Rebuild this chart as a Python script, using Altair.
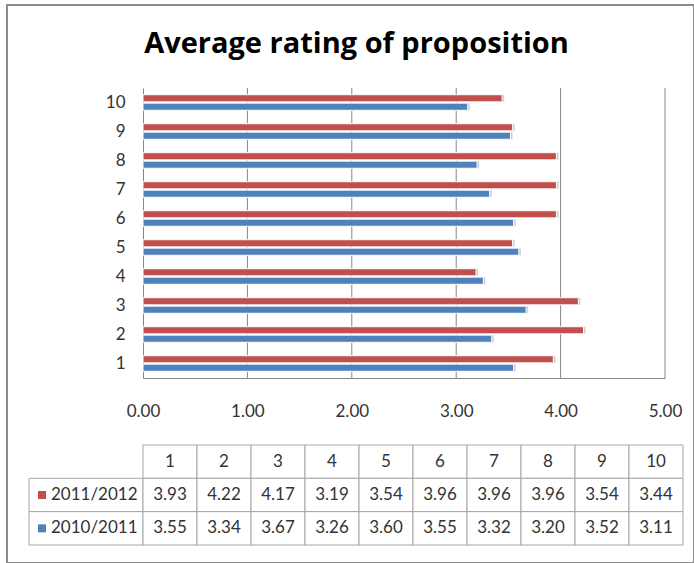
import altair as alt
import pandas as pd

# ---- data -------------------------------------------------------------
propositions = [str(i) for i in range(1, 11)]
series_names = ["2011/2012", "2010/2011"]
ratings_2011_2012 = [3.93, 4.22, 4.17, 3.19, 3.54, 3.96, 3.96, 3.96, 3.54, 3.44]
ratings_2010_2011 = [3.55, 3.34, 3.67, 3.26, 3.60, 3.55, 3.32, 3.20, 3.52, 3.11]
series_colors = ["#C0504D", "#4F81BD"]
x_tick_values = [0, 1, 2, 3, 4, 5]
grid_values = [1, 2, 3, 4, 5]

FONT = "Lato"
TEXT_COLOR = "#333333"
GRID_COLOR = "#868686"
TABLE_LINE = "#A6A6A6"

series_values = {
    "2011/2012": ratings_2011_2012,
    "2010/2011": ratings_2010_2011,
}

# long table for the bars
bar_rows = []
for s in series_names:
    for p, v in zip(propositions, series_values[s]):
        bar_rows.append({"prop": p, "series": s, "value": v})
bars_df = pd.DataFrame(bar_rows)

# vertical gridlines: one short segment per category band
grid_df = pd.DataFrame(
    [{"prop": p, "value": g} for p in propositions for g in grid_values]
)

# data table under the chart: column units (one per proposition), row units
LABEL_COL = 114 / 54  # width of the series-name column, in column units
cells, texts, labels = [], [], []
for i, p in enumerate(propositions, start=1):
    cells.append({"x0": i - 1, "x1": i, "y0": 0, "y1": 1})
    texts.append({"tx": i - 0.5, "ty": 0.5, "txt": p})
for r, s in enumerate(series_names, start=1):
    cells.append({"x0": -LABEL_COL, "x1": 0, "y0": r, "y1": r + 1})
    labels.append({"lx": -LABEL_COL, "ly": r + 0.5, "series": s})
    for i, v in enumerate(series_values[s], start=1):
        cells.append({"x0": i - 1, "x1": i, "y0": r, "y1": r + 1})
        texts.append({"tx": i - 0.5, "ty": r + 0.5, "txt": f"{v:.2f}"})
cells_df = pd.DataFrame(cells)
texts_df = pd.DataFrame(texts)
labels_df = pd.DataFrame(labels)

color_enc = alt.Color(
    "series:N",
    scale=alt.Scale(domain=series_names, range=series_colors),
    legend=None,
)

# ---- bar chart ----------------------------------------------------------
x_enc = alt.X(
    "value:Q",
    scale=alt.Scale(domain=[0, 5], range=[136, 658], nice=False, zero=True),
    axis=alt.Axis(
        values=x_tick_values,
        format=".2f",
        grid=False,
        domainColor=GRID_COLOR,
        ticks=False,
        offset=-185,
        labelPadding=25,
        labelAlign="center",
        labelFont=FONT,
        labelFontSize=17,
        labelColor=TEXT_COLOR,
        title=None,
    ),
)
y_enc = alt.Y(
    "prop:N",
    sort=propositions[::-1],
    scale=alt.Scale(range=[83, 373], paddingInner=0, paddingOuter=0),
    axis=alt.Axis(
        offset=-136,
        ticks=False,
        grid=False,
        domainColor=GRID_COLOR,
        labelPadding=18,
        labelFont=FONT,
        labelFontSize=17,
        labelColor=TEXT_COLOR,
        title=None,
    ),
)
yoff_enc = alt.YOffset(
    "series:N",
    sort=series_names,
    scale=alt.Scale(paddingInner=0.15, paddingOuter=0.8),
)

gridlines = alt.Chart(grid_df).mark_tick(
    orient="vertical", size=29, thickness=1, color=GRID_COLOR, opacity=1
).encode(x=x_enc, y=y_enc)

bar_base = alt.Chart(bars_df)
shadow = bar_base.mark_bar(color="#7F7F7F", opacity=0.4, xOffset=2, yOffset=2).encode(
    x=x_enc, y=y_enc, yOffset=yoff_enc
)
bars = bar_base.mark_bar(stroke="white", strokeWidth=1).encode(
    x=x_enc, y=y_enc, yOffset=yoff_enc, color=color_enc
)
bar_chart = alt.layer(gridlines, shadow, bars)

# ---- data table -------------------------------------------------------------
tx_scale = alt.Scale(domain=[0, 10], range=[136, 676], nice=False, zero=False)
ty_scale = alt.Scale(domain=[0, 3], range=[440, 540], nice=False, zero=False)

grid_cells = alt.Chart(cells_df).mark_rect(
    fill="white", stroke=TABLE_LINE, strokeWidth=1
).encode(
    x=alt.X("x0:Q", scale=tx_scale, axis=None),
    x2="x1:Q",
    y=alt.Y("y0:Q", scale=ty_scale, axis=None),
    y2="y1:Q",
)
cell_text = alt.Chart(texts_df).mark_text(
    font=FONT, fontSize=17, color=TEXT_COLOR, align="center", baseline="middle"
).encode(
    x=alt.X("tx:Q", scale=tx_scale, axis=None),
    y=alt.Y("ty:Q", scale=ty_scale, axis=None),
    text="txt:N",
)
key_squares = alt.Chart(labels_df).mark_point(
    shape="square", filled=True, size=64, opacity=1, xOffset=13
).encode(
    x=alt.X("lx:Q", scale=tx_scale, axis=None),
    y=alt.Y("ly:Q", scale=ty_scale, axis=None),
    color=color_enc,
)
key_text = alt.Chart(labels_df).mark_text(
    font=FONT, fontSize=17, color=TEXT_COLOR, align="left", baseline="middle", dx=22
).encode(
    x=alt.X("lx:Q", scale=tx_scale, axis=None),
    y=alt.Y("ly:Q", scale=ty_scale, axis=None),
    text="series:N",
)
table_chart = alt.layer(grid_cells, cell_text, key_squares, key_text)

chart = (
    alt.layer(bar_chart, table_chart)
    .resolve_scale(x="independent", y="independent")
    .properties(
        width=687,
        height=558,
        autosize=alt.AutoSizeParams(type="none"),
        padding={"left": 7, "top": 5, "right": 0, "bottom": 0},
        title=alt.Title(
            "Average rating of proposition",
            font="Open Sans",
            fontSize=29,
            fontWeight="bold",
            color="black",
            anchor="middle",
            frame="group",
            offset=-54,
            dx=6,
        ),
    )
    .configure_view(stroke="#8C8C8C", strokeWidth=2)
)

chart.save("out.html", embed_options={"renderer": "svg", "actions": False})
